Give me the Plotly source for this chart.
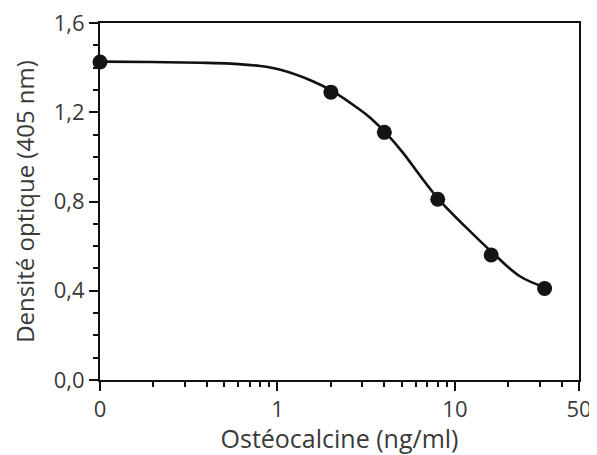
import math
import plotly.graph_objects as go

# Data points (concentration ng/ml, optical density)
conc = [0, 2, 4, 8, 16, 32]
od = [1.425, 1.29, 1.11, 0.81, 0.56, 0.41]

# Fitted curve
curve_x = [0.1, 0.194, 0.369, 0.545, 0.80, 1.04, 1.59, 2.04, 2.93, 3.33, 4.1, 5.1, 6.37, 8.1, 12.1, 16.3, 23.2, 32.9]
curve_y = [1.427, 1.425, 1.422, 1.418, 1.407, 1.39, 1.338, 1.295, 1.21, 1.175, 1.105, 1.018, 0.915, 0.81, 0.668, 0.57, 0.465, 0.412]

x_tickvals = [0.1, 1, 10, 50]
x_ticktext = ["0", "1", "10", "50"]
y_tickvals = [0, 0.4, 0.8, 1.2, 1.6]
y_ticktext = ["0,0", "0,4", "0,8", "1,2", "1,6"]
x_minor = [m * d for d in (0.1, 1, 10) for m in range(2, 10) if m * d < 50]

x_left = 0.1
conc_plot = [c if c > 0 else x_left for c in conc]

fig = go.Figure()
fig.add_trace(go.Scatter(x=curve_x, y=curve_y, mode="lines", line=dict(color="#111111", width=2.6, shape="spline", smoothing=1.0),
                         hoverinfo="skip", cliponaxis=False))
fig.add_trace(go.Scatter(x=conc_plot, y=od, mode="markers", marker=dict(color="#141414", size=15),
                         cliponaxis=False))

font_color = "#3a3a3a"
FONT = "Open Sans"
# page body has an 8px margin, so the figure is made 8px smaller on each side
fig.update_layout(
    width=589, height=447,
    margin=dict(l=92, r=18, t=15, b=75),
    paper_bgcolor="white", plot_bgcolor="white",
    showlegend=False,
    font=dict(family=FONT, size=22, color=font_color),
)
fig.update_xaxes(
    type="log", range=[math.log10(0.1), math.log10(50)],
    tickvals=x_tickvals, ticktext=x_ticktext,
    ticks="outside", ticklen=9, tickwidth=2, tickcolor="#111111",
    showline=True, linecolor="#111111", linewidth=2, mirror=True,
    showgrid=False, zeroline=False, automargin=False, ticklabeloverflow="allow",
    minor=dict(ticks="outside", ticklen=5, tickwidth=2, tickcolor="#111111", tickvals=x_minor, showgrid=False),
    title=dict(text="Ostéocalcine (ng/ml)", standoff=6, font=dict(size=25, color=font_color)),
    tickfont=dict(size=22, color=font_color),
)
fig.update_yaxes(
    range=[0, 1.6],
    tickvals=y_tickvals, ticktext=y_ticktext,
    ticks="outside", ticklen=9, tickwidth=2, tickcolor="#111111",
    showline=True, linecolor="#111111", linewidth=2, mirror=True,
    showgrid=False, zeroline=False, automargin=False, ticklabeloverflow="allow",
    minor=dict(ticks="outside", ticklen=5, tickwidth=2, tickcolor="#111111", dtick=0.1, showgrid=False),
    title=dict(text="Densité optique (405 nm)", standoff=15, font=dict(size=24, color=font_color)),
    tickfont=dict(size=22, color=font_color),
)
fig.write_html("out.html")
